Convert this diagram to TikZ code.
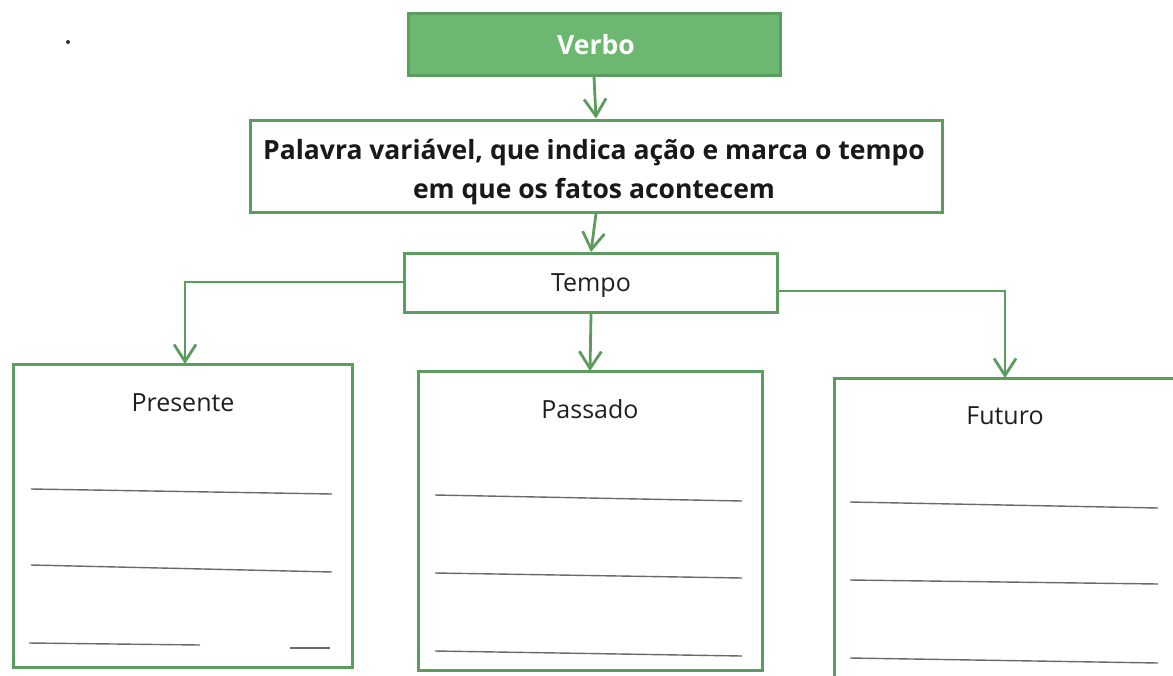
\documentclass[tikz,border=0pt]{standalone}
\usepackage{fontspec}
\setmainfont{Open Sans}
\usetikzlibrary{arrows.meta}
\definecolor{gborder}{RGB}{92,156,94}
\definecolor{gfill}{RGB}{108,184,112}
\definecolor{lineg}{RGB}{105,105,110}
\tikzset{
  box/.style={draw=gborder, line width=3pt, fill=white},
  conn/.style={draw=gborder, line width=2.8pt, -{Straight Barb[length=17pt,width=22pt,line width=2.8pt]}},
  lbl/.style={font=\fontsize{25}{29}\selectfont, text=black!88},
  wline/.style={draw=lineg, line width=1.4pt},
}
\begin{document}
\begin{tikzpicture}[x=1pt,y=-1pt]
\useasboundingbox (0,0) rectangle (1173,675);
\fill[white] (0,0) rectangle (1173,675);
\fill[black!80] (68,42) circle (2);
% Verbo
\node[box, fill=gfill, minimum width=372pt, minimum height=62pt, inner sep=0pt] (verbo) at (594,44) {};
\node[font=\fontsize{26.5}{30}\selectfont\bfseries, text=white] (verbot) at (596,45) {Verbo};
% main box
\node[box, minimum width=692pt, minimum height=92pt, inner sep=0pt] (main) at (596,166) {};
\node[font=\fontsize{26.5}{39}\selectfont\bfseries, align=center, text=black!90] (maint) at (594,172) {Palavra variável, que indica ação e marca o tempo\\em que os fatos acontecem};
% Tempo
\node[box, minimum width=373pt, minimum height=59pt, inner sep=0pt] (tempo) at (591,283) {};
\node[lbl] (tempot) at (591,286) {Tempo};
% bottom boxes
\draw[box] (13,364) rectangle (352,667);
\coordinate (pres) at (185,364);
\node[lbl] (prest) at (183,403) {Presente};
\draw[box] (418,371) rectangle (762,670);
\coordinate (pass) at (590,371);
\node[lbl] (passt) at (590,409) {Passado};
\draw[box] (834,378) rectangle (1185,690);
\coordinate (fut) at (1005,378);
\node[lbl] (futt) at (1005,416) {Futuro};
% writing lines
\draw[wline] (31,489) -- (332,494);
\draw[wline] (31,565) -- (332,572);
\draw[wline] (29,643) -- (200,645);
\draw[wline] (290,648) -- (330,648);
\draw[wline] (435,495) -- (742,501);
\draw[wline] (435,573) -- (742,578);
\draw[wline] (435,651) -- (742,656);
\draw[wline] (850,502) -- (1158,508);
\draw[wline] (850,580) -- (1158,584);
\draw[wline] (850,658) -- (1158,663);
% connectors
\draw[conn] (verbo.south) -- (main.north);
\draw[conn] (main.south) -- (tempo.north);
\draw[conn] ([yshift=1pt]tempo.west) -- (185,282) -- (pres);
\draw[conn] (tempo.south) -- (pass);
\draw[conn] ([yshift=-8pt]tempo.east) -- (1005,291) -- (fut);
\end{tikzpicture}
\end{document}
